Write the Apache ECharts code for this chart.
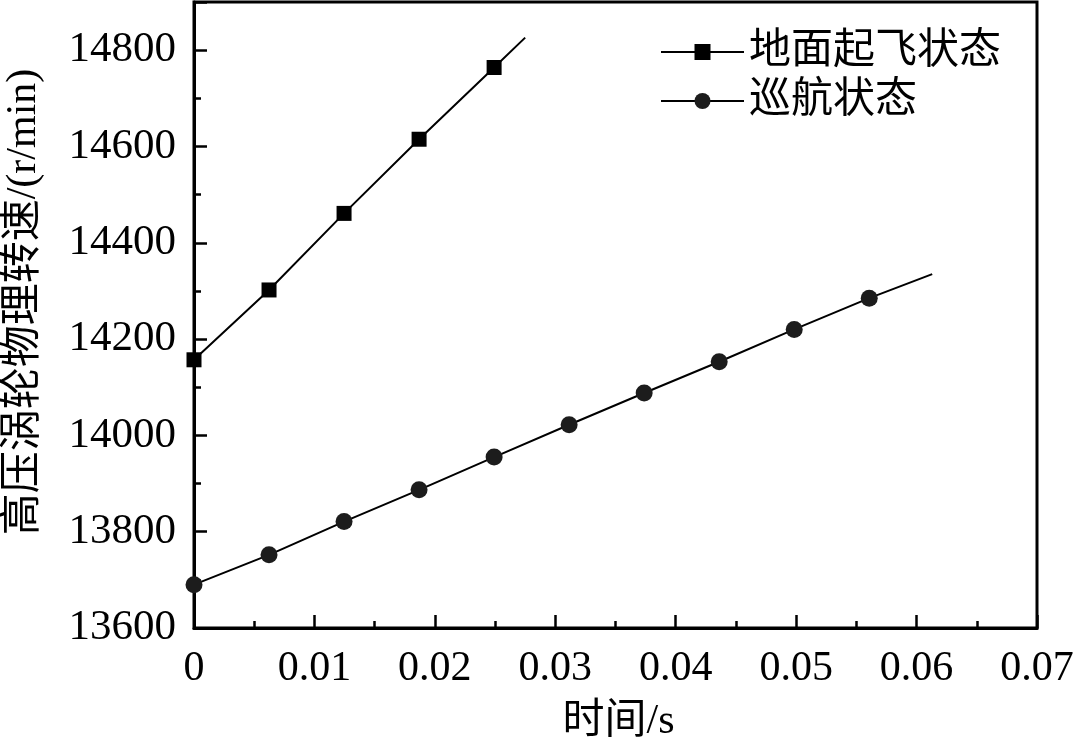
<!DOCTYPE html>
<html>
<head>
<meta charset="utf-8">
<script src="https://cdn.jsdelivr.net/npm/echarts@6/dist/echarts.min.js"></script>
<style>
html,body{margin:0;padding:0;background:#fff;}
#chart{width:1080px;height:742px;}
</style>
</head>
<body>
<div id="chart"></div>
<script>
// ---- data ----
const timeS = [0, 0.00623, 0.01246, 0.01869, 0.02492, 0.03115, 0.03738, 0.04361, 0.04984, 0.05607];
const takeoffSpeed = [14157, 14302, 14461, 14615, 14764];
const cruiseSpeed = [13690, 13752, 13821, 13887, 13955, 14022, 14088, 14153, 14220, 14285];
const takeoffLineEnd = [0.0275, 14826];
const cruiseLineEnd = [0.0613, 14335];
const seriesNames = ['地面起飞状态', '巡航状态'];
const xTickLabels = ['0', '0.01', '0.02', '0.03', '0.04', '0.05', '0.06', '0.07'];
const yTickLabels = ['13600', '13800', '14000', '14200', '14400', '14600', '14800'];
const xAxisName = '时间/s';
const yAxisName = '高压涡轮物理转速/(r/min)';

const FONT = '"Liberation Serif", "Noto Sans CJK SC", serif';

function buildData(xs, ys, end) {
  const d = ys.map((y, i) => [xs[i], y]);
  d.push({ value: end, symbol: 'none' });
  return d;
}

const chart = echarts.init(document.getElementById('chart'), null, { renderer: 'canvas' });
chart.setOption({
  animation: false,
  backgroundColor: '#fff',
  grid: {
    left: 194, right: 43, top: 2, bottom: 114,
    containLabel: false, outerBoundsMode: 'none',
    show: true, borderColor: '#000', borderWidth: 3, backgroundColor: 'transparent'
  },
  legend: {
    orient: 'vertical',
    left: 655, top: 26,
    itemWidth: 83, itemHeight: 20, itemGap: 7,
    textStyle: { fontFamily: FONT, fontSize: 42, color: '#000', lineHeight: 42, padding: [0, 0, 0, 0] },
    data: seriesNames
  },
  xAxis: {
    type: 'value', min: 0, max: 0.07, interval: 0.01,
    name: xAxisName, nameLocation: 'middle', nameGap: 73,
    nameTextStyle: { fontFamily: FONT, fontSize: 42, color: '#000', padding: [0, 0, 0, 6] },
    axisLine: { show: true, lineStyle: { color: '#000', width: 3 } },
    axisTick: { show: true, inside: true, length: 13, lineStyle: { color: '#000', width: 2.5 } },
    minorTick: { show: true, splitNumber: 2, length: 7, lineStyle: { color: '#000', width: 2.5 } },
    splitLine: { show: false },
    axisLabel: {
      fontFamily: FONT, fontSize: 42, color: '#000', margin: 20,
      formatter: v => xTickLabels[Math.round(v / 0.01)] ?? ''
    }
  },
  yAxis: {
    type: 'value', min: 13600, max: 14900, interval: 200,
    name: yAxisName, nameLocation: 'middle', nameGap: 149, nameRotate: 90,
    nameTextStyle: { fontFamily: FONT, fontSize: 42, color: '#000', padding: [0, 0, 0, 26] },
    axisLine: { show: true, lineStyle: { color: '#000', width: 3 } },
    axisTick: { show: true, inside: true, length: 13, lineStyle: { color: '#000', width: 2.5 } },
    minorTick: { show: true, splitNumber: 2, length: 7, lineStyle: { color: '#000', width: 2.5 } },
    splitLine: { show: false },
    axisLabel: {
      fontFamily: FONT, fontSize: 43, color: '#000', margin: 18,
      showMaxLabel: false,
      formatter: v => { const i = Math.round((v - 13600) / 200); return (Math.abs(v - 13600 - i * 200) < 1e-6) ? (yTickLabels[i] ?? '') : ''; }
    }
  },
  series: [
    {
      name: seriesNames[0], type: 'line',
      data: buildData(timeS, takeoffSpeed, takeoffLineEnd),
      symbol: 'rect', symbolSize: 15, showAllSymbol: true,
      lineStyle: { color: '#000', width: 2 },
      itemStyle: { color: '#000' },
      z: 3
    },
    {
      name: seriesNames[1], type: 'line',
      data: buildData(timeS, cruiseSpeed, cruiseLineEnd),
      symbol: 'circle', symbolSize: 17, showAllSymbol: true,
      lineStyle: { color: '#000', width: 2 },
      itemStyle: { color: '#1c1c1c' },
      z: 3
    }
  ]
});
</script>
</body>
</html>
